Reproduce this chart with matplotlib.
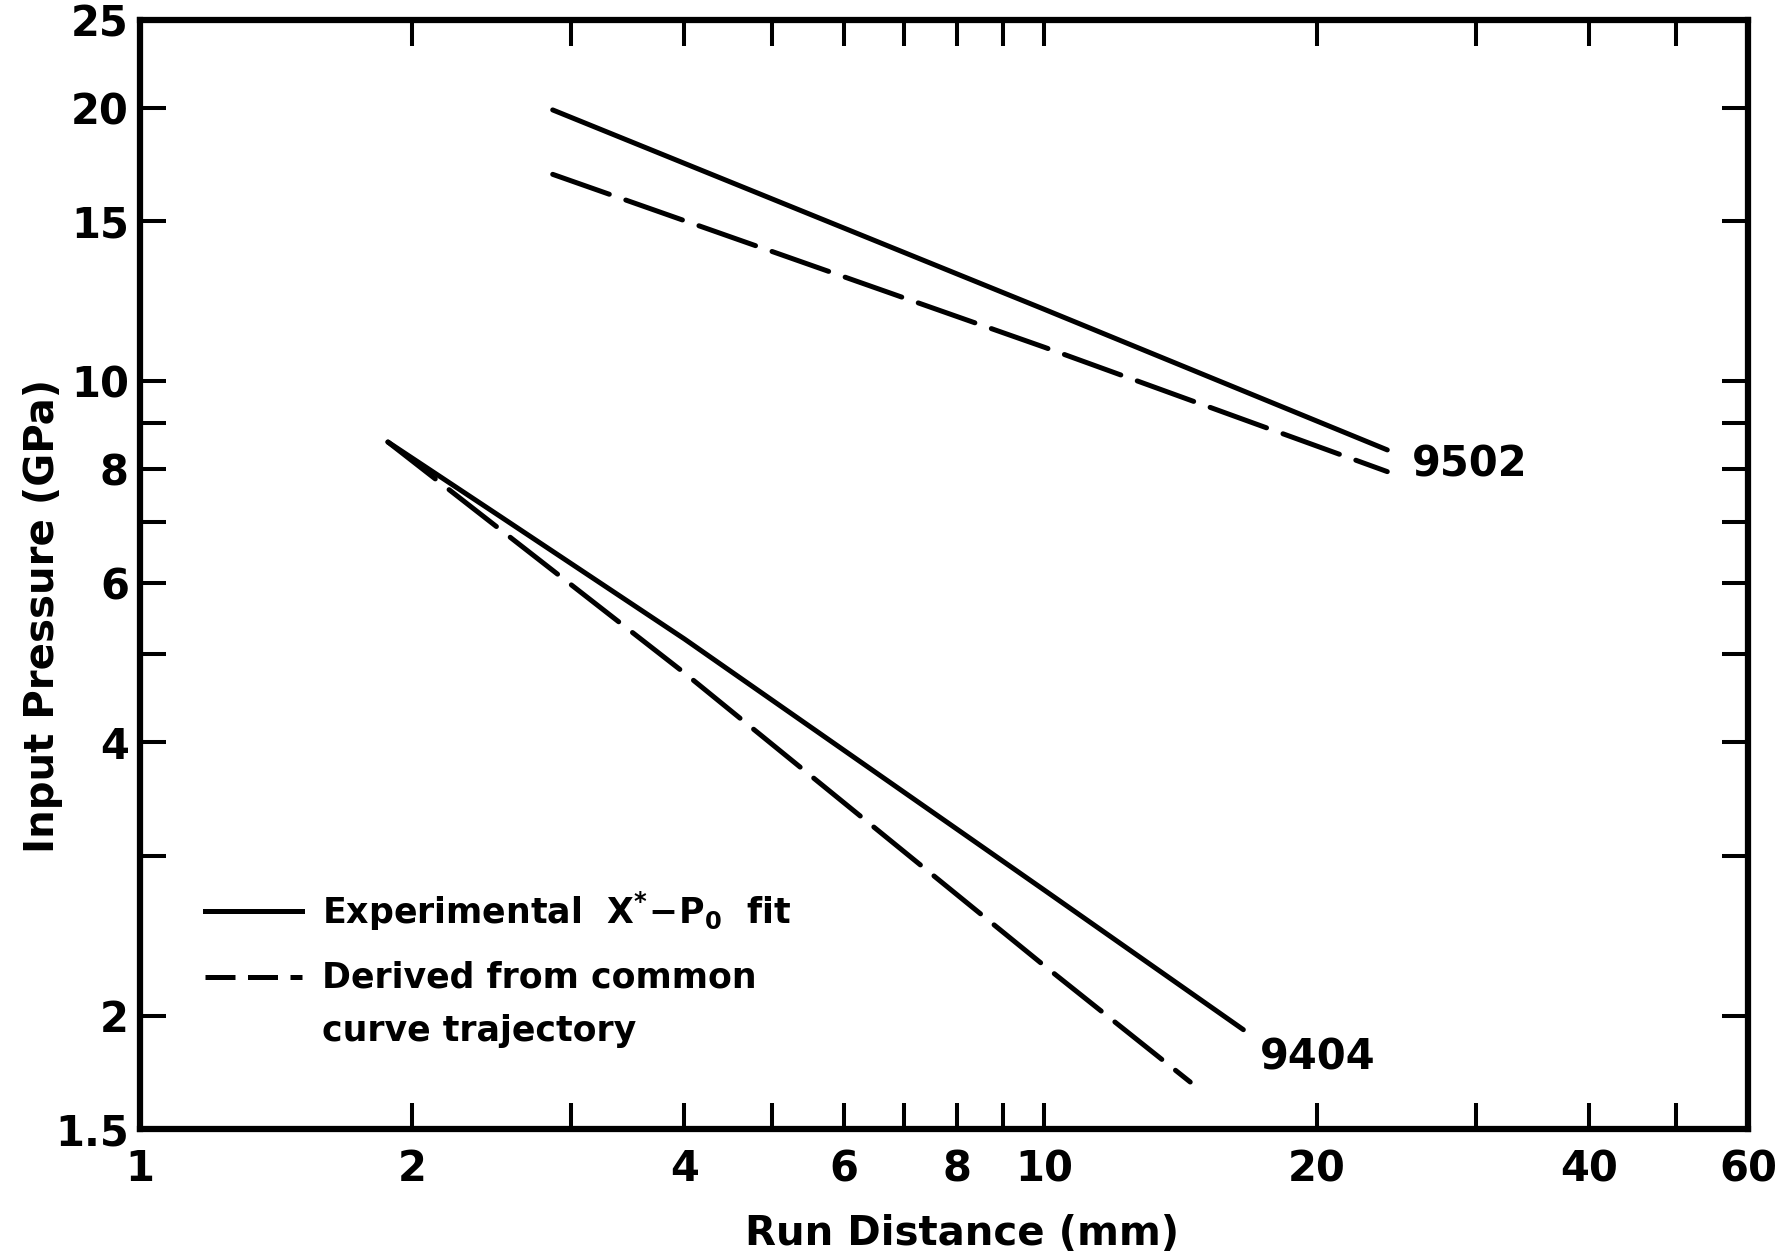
import matplotlib
matplotlib.use("Agg")
import matplotlib.pyplot as plt
from matplotlib.ticker import FixedLocator, FixedFormatter, NullLocator

plt.rcParams["font.family"] = ["DejaVu Sans"]
plt.rcParams["font.weight"] = "bold"
plt.rcParams["mathtext.fontset"] = "dejavusans"

# PBX 9502: run distance (mm) vs input pressure (GPa)
run_9502 = [2.86, 10.0, 23.95]
p_9502_fit = [19.9, 12.0, 8.4]
p_9502_common = [16.9, 10.9, 7.95]

# PBX 9404
run_9404_fit = [1.88, 2.5, 4.0, 10.0, 16.6]
p_9404_fit = [8.57, 7.1, 5.2, 2.75, 1.93]
run_9404_common = [1.88, 4.0, 10.0, 14.5]
p_9404_common = [8.57, 4.77, 2.27, 1.69]

x_ticks = [1, 2, 3, 4, 5, 6, 7, 8, 9, 10, 20, 30, 40, 50, 60]
x_ticklabels = ["1", "2", "", "4", "", "6", "", "8", "", "10", "20", "", "40", "", "60"]
y_ticks = [1.5, 2, 3, 4, 5, 6, 7, 8, 9, 10, 15, 20, 25]
y_ticklabels = ["1.5", "2", "", "4", "", "6", "", "8", "", "10", "15", "20", "25"]

fig = plt.figure(figsize=(17.86, 12.57), dpi=100)
ax = fig.add_axes([0.0784, 0.1018, 0.9003, 0.8823])

lw = 3.6
ax.plot(run_9502, p_9502_fit, color="black", lw=lw, solid_capstyle="round")
ax.plot(run_9502, p_9502_common, color="black", lw=lw, linestyle=(0, (12, 3.5)),
        dash_capstyle="round")
ax.plot(run_9404_fit, p_9404_fit, color="black", lw=lw, solid_capstyle="round",
        solid_joinstyle="round")
ax.plot(run_9404_common, p_9404_common, color="black", lw=lw, linestyle=(0, (12, 3.5)),
        dash_capstyle="round")

ax.text(25.5, 8.1, "9502", fontsize=30, fontweight="bold", ha="left", va="center")
ax.text(17.3, 1.80, "9404", fontsize=30, fontweight="bold", ha="left", va="center")

ax.set_xscale("log")
ax.set_yscale("log")
ax.set_xlim(1, 60)
ax.set_ylim(1.5, 25)

ax.xaxis.set_major_locator(FixedLocator(x_ticks))
ax.xaxis.set_major_formatter(FixedFormatter(x_ticklabels))
ax.xaxis.set_minor_locator(NullLocator())
ax.yaxis.set_major_locator(FixedLocator(y_ticks))
ax.yaxis.set_major_formatter(FixedFormatter(y_ticklabels))
ax.yaxis.set_minor_locator(NullLocator())

ax.tick_params(axis="both", which="major", direction="in", length=19, width=2.9,
               top=True, right=True, labelsize=30)
ax.tick_params(axis="x", pad=14)
ax.tick_params(axis="y", pad=8)
for spine in ax.spines.values():
    spine.set_linewidth(4.5)

ax.set_xlabel("Run Distance (mm)", fontsize=29, fontweight="bold")
ax.set_ylabel("Input Pressure (GPa)", fontsize=29, fontweight="bold")
ax.xaxis.set_label_coords(0.511, -0.077)
ax.yaxis.set_label_coords(-0.048, 0.463)

# key, drawn in axes fraction
ax.plot([0.0404, 0.1007], [0.1966, 0.1966], color="black", lw=lw, transform=ax.transAxes)
ax.plot([0.0404, 0.1007], [0.137, 0.137], color="black", lw=lw,
        linestyle=(0, (6, 2.5)), transform=ax.transAxes)
ax.text(0.1132, 0.1966, r"Experimental  $\mathbf{X^{*}\!-\!P_0}$  fit", fontsize=25,
        fontweight="bold", ha="left", va="center", transform=ax.transAxes)
ax.text(0.1132, 0.137, "Derived from common", fontsize=25, fontweight="bold",
        ha="left", va="center", transform=ax.transAxes)
ax.text(0.1132, 0.0884, "curve trajectory", fontsize=25, fontweight="bold",
        ha="left", va="center", transform=ax.transAxes)

fig.savefig("out.png", dpi=100)
